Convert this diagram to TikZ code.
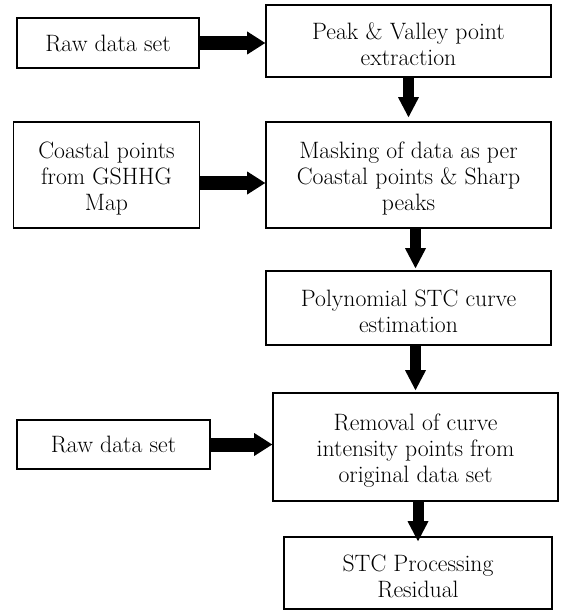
\documentclass[tikz,border=0pt]{standalone}
\usetikzlibrary{arrows.meta}
% invisible strut that lowers multi-line labels a little
\newcommand\tstr{\rule{0pt}{23pt}}
\begin{document}
\begin{tikzpicture}[x=1pt,y=-1pt,
  box/.style={draw, line width=1.6pt, align=center, inner sep=0pt,
    font=\fontsize{23.7}{26}\selectfont},
  harrow/.style={line width=14pt,
    -{Triangle[width=23pt,length=18pt,line width=0pt]}},
  varrow/.style={line width=11pt,
    -{Triangle[width=21pt,length=20pt,line width=0pt]}}]
\useasboundingbox (0,0) rectangle (560,610);

% process boxes
\node[box, minimum width=182pt, minimum height=50pt] (raw1) at (108,43) {Raw data set};
\node[box, minimum width=285pt, minimum height=72pt] (peak) at (408.5,41) {\tstr Peak \& Valley point\\extraction};
\node[box, minimum width=186pt, minimum height=106pt] (coastal) at (106.5,175) {\tstr Coastal points\\from GSHHG\\Map};
\node[box, minimum width=285pt, minimum height=106pt] (masking) at (408.5,175) {\tstr Masking of data as per\\Coastal points \& Sharp\\peaks};
\node[box, minimum width=285pt, minimum height=74pt] (poly) at (408.5,308) {\tstr Polynomial STC curve\\estimation};
\node[box, minimum width=285pt, minimum height=108pt] (removal) at (415.5,447) {\tstr Removal of curve\\intensity points from\\original data set};
\node[box, minimum width=193pt, minimum height=49pt] (raw2) at (113.5,444.5) {Raw data set};
\node[box, minimum width=268pt, minimum height=72pt] (stc) at (418,573) {\tstr STC Processing\\Residual};

% inputs from the left
\draw[harrow] (raw1) -- (raw1 -| peak.west);
\draw[harrow] ([yshift=-8pt]coastal.east) -- ([yshift=-8pt]masking.west);
\draw[harrow] (raw2.east) -- (raw2.east -| removal.west);

% main flow
\draw[varrow, shorten >=4pt] (peak) -- (masking);
\draw[varrow, shorten >=2pt] (masking.south -| removal) -- (poly.north -| removal);
\draw[varrow, shorten >=2pt] (poly.south -| removal) -- (removal.north);
\draw[varrow] (removal.south -| stc) -- ([yshift=-5pt]stc.north);
\end{tikzpicture}
\end{document}
